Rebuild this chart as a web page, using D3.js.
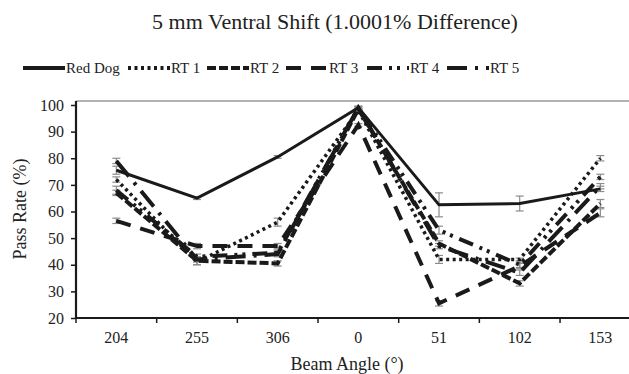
<!DOCTYPE html>
<html><head><meta charset="utf-8">
<script src="https://cdn.jsdelivr.net/npm/d3@7"></script>
<style>
html,body{margin:0;padding:0;background:#fff;}
svg{display:block;font-family:"Liberation Serif","Times New Roman",serif;}
</style></head>
<body><svg id="c" width="629" height="374"></svg>
<script>
const categories = ["204","255","306","0","51","102","153"];
const yTicks = [20,30,40,50,60,70,80,90,100];
const seriesNames = ["Red Dog","RT 1","RT 2","RT 3","RT 4","RT 5"];
const redDog = [75.5, 65, 80.5, 99, 62.5, 63, 68.5];
const rt1    = [72, 41, 56, 98, 42, 42, 80];
const rt2    = [67, 41.5, 40.5, 98.5, 48, 33, 63];
const rt3    = [56.5, 47, 47, 92.5, 25.5, 39.5, 59.5];
const rt4    = [68, 43, 44.5, 99, 53, 40, 73];
const rt5    = [79, 42, 44, 99, 47, 37, 69.5];
const errRedDog = [1.5, 0.5, 0.5, 0.5, 4.5, 2.8, 1];
const errRt1 = [1, 1, 1.5, 0.5, 1.5, 0.5, 1];
const errRt2 = [1, 1.5, 1, 0.5, 1, 1, 1.5];
const errRt3 = [1, 1, 1, 0.5, 1, 1, 1.5];
const errRt4 = [1.5, 1, 1, 0.5, 1.5, 1, 1];
const errRt5 = [1, 1, 1, 0.5, 1, 1, 1];

const values = [redDog, rt1, rt2, rt3, rt4, rt5];
const errors = [errRedDog, errRt1, errRt2, errRt3, errRt4, errRt5];
const dashes = [null, "3,3.5", "9,3", "15,10", "15,7,3,5,3,7", "20,8,3,8"];
const widths = [3, 3.5, 4, 4, 4, 4];

const svg = d3.select("#c");
const x = d3.scaleBand().domain(categories).range([76, 640.7]);
const y = d3.scaleLinear().domain([20,100]).range([318,105]);

// top frame line
svg.append("line").attr("x1",76).attr("x2",629).attr("y1",101).attr("y2",101)
  .attr("stroke","#666").attr("stroke-width",1.2);

// error bars
values.forEach((vals,si)=>{
  const g = svg.append("g");
  vals.forEach((v,i)=>{
    const e = errors[si][i];
    const cx = x(categories[i]) + x.bandwidth()/2;
    g.append("line").attr("x1",cx).attr("x2",cx).attr("y1",y(v-e)).attr("y2",y(v+e))
      .attr("stroke","#8c8c8c").attr("stroke-width",1.2);
    [v-e, v+e].forEach(t=>g.append("line").attr("x1",cx-4).attr("x2",cx+4)
      .attr("y1",y(t)).attr("y2",y(t)).attr("stroke","#8c8c8c").attr("stroke-width",1.2));
  });
});

// lines (draw RT series first, Red Dog on top)
const line = d3.line().x((d,i)=>x(categories[i]) + x.bandwidth()/2).y(d=>y(d));
[5,4,3,2,1,0].forEach(si=>{
  svg.append("path").datum(values[si]).attr("d",line).attr("fill","none")
    .attr("stroke","#1a1a1a").attr("stroke-width",widths[si])
    .attr("stroke-dasharray",dashes[si]).attr("stroke-linejoin","miter");
});

// axes
const yAxis = d3.axisLeft(y).tickValues(yTicks).tickSize(5).tickPadding(7);
const yg = svg.append("g").attr("transform","translate(76,0)").call(yAxis);
yg.select(".domain").attr("d","M0,101V318");
const xAxis = d3.axisBottom(x).tickSize(0).tickPadding(14);
const xg = svg.append("g").attr("transform","translate(0,318)").call(xAxis);
xg.select(".domain").attr("d","M76,0H629");
// band boundary ticks
const bounds = categories.map(c=>x(c)).concat([x.range()[1]]);
xg.selectAll(".bt").data(bounds).enter().append("line").attr("class","bt")
  .attr("x1",d=>d).attr("x2",d=>d).attr("y1",0).attr("y2",5).attr("stroke","#1a1a1a").attr("stroke-width",1.5);
[yg,xg].forEach(g=>{
  g.selectAll(".domain").attr("stroke","#1a1a1a").attr("stroke-width",2.2);
  g.selectAll(".tick line").attr("stroke","#1a1a1a").attr("stroke-width",1.5);
  g.selectAll("text").attr("font-family","Liberation Serif").attr("font-size",16).attr("fill","#222");
});

// title
svg.append("text").attr("x",335).attr("y",29).attr("text-anchor","middle")
  .attr("font-size",22).attr("fill","#222").text("5 mm Ventral Shift (1.0001% Difference)");
// axis titles
svg.append("text").attr("x",347).attr("y",370).attr("text-anchor","middle")
  .attr("font-size",18).attr("fill","#222").text("Beam Angle (°)");
svg.append("text").attr("transform","translate(26,209) rotate(-90)").attr("text-anchor","middle")
  .attr("font-size",18).attr("fill","#222").text("Pass Rate (%)");

// legend
const legX = [23, 128, 207, 286, 367, 447];
const lg = svg.append("g");
seriesNames.forEach((n,i)=>{
  lg.append("line").attr("x1",legX[i]).attr("x2",legX[i]+42).attr("y1",68).attr("y2",68)
    .attr("stroke","#1a1a1a").attr("stroke-width",4).attr("stroke-dasharray",dashes[i]);
  lg.append("text").attr("x",legX[i]+43).attr("y",73).attr("font-size",15).attr("fill","#222").text(n);
});
</script></body></html>
